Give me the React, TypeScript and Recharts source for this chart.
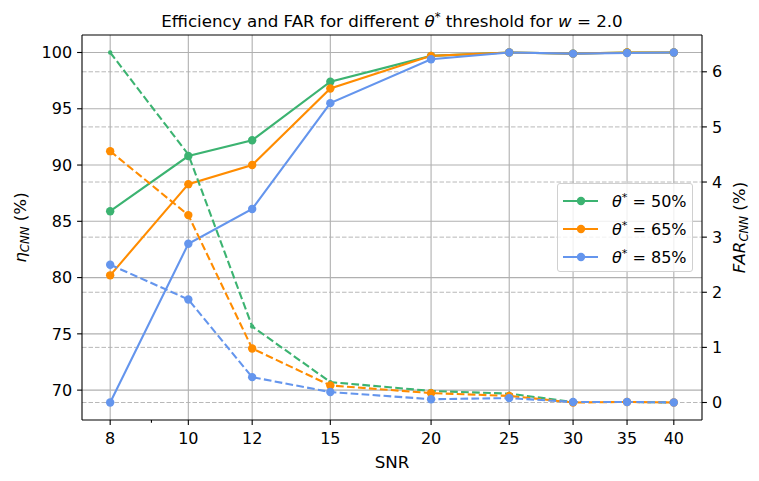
import { CartesianGrid, Legend, Line, LineChart, ReferenceLine, XAxis, YAxis } from "recharts";

// SNR values (log-scaled x axis)
const snr = [8, 10, 12, 15, 20, 25, 30, 35, 40];

// efficiency eta_CNN (%) - left axis, solid
const eff50 = [85.9, 90.8, 92.2, 97.4, 99.7, 100, 99.9, 100, 100];
const eff65 = [80.2, 88.3, 90.0, 96.8, 99.7, 100, 99.9, 100, 100];
const eff85 = [68.9, 83.0, 86.1, 95.5, 99.4, 100, 99.9, 99.95, 100];

// FAR_CNN (%) - right axis, dashed
const far50 = [6.35, 4.5, 1.38, 0.37, 0.21, 0.16, 0.01, 0.01, 0.0];
const far65 = [4.56, 3.4, 0.98, 0.31, 0.17, 0.12, 0.0, 0.01, 0.0];
const far85 = [2.5, 1.87, 0.46, 0.19, 0.06, 0.08, 0.01, 0.01, 0.0];

const thresholds = ["50%", "65%", "85%"];
const xTicks = [8, 10, 12, 15, 20, 25, 30, 35, 40];
const xMinorTicks = [9];
const leftTicks = [70, 75, 80, 85, 90, 95, 100];
const rightTicks = [0, 1, 2, 3, 4, 5, 6];

const GREEN = "#3cb371";
const ORANGE = "#ff8c00";
const BLUE = "#6495ed";
const FONT = "'DejaVu Sans', sans-serif";
const FS = 16;
const LABEL_FS = 16.7;

const W = 759;
const H = 481;
const PLOT_LEFT = 82;
const PLOT_RIGHT = 702;
const PLOT_TOP = 35;
const PLOT_BOTTOM = 420;

const data = snr.map((s, i) => ({
  snr: s,
  eff50: eff50[i],
  eff65: eff65[i],
  eff85: eff85[i],
  far50: far50[i],
  far65: far65[i],
  far85: far85[i],
}));

// matplotlib-style 5% margins
const pad = (lo: number, hi: number) => {
  const m = (hi - lo) * 0.05;
  return [lo - m, hi + m];
};
const effAll = [...eff50, ...eff65, ...eff85];
const farAll = [...far50, ...far65, ...far85];
const leftDomain = pad(Math.min(...effAll), Math.max(...effAll));
const rightDomain = pad(Math.min(...farAll), Math.max(...farAll));
const xRatio = Math.pow(snr[snr.length - 1] / snr[0], 0.05);
const xDomain = [snr[0] / xRatio, snr[snr.length - 1] * xRatio];

function XTick(props: any) {
  const { x, payload } = props;
  const minor = xMinorTicks.includes(payload.value);
  return (
    <g>
      <line x1={x} x2={x} y1={PLOT_BOTTOM} y2={PLOT_BOTTOM + (minor ? 2.8 : 4.9)} stroke="#000" strokeWidth={1.1} />
      {!minor && (
        <text x={x} y={444} textAnchor="middle" fontSize={FS} fontFamily={FONT} fill="#000">
          {payload.value}
        </text>
      )}
    </g>
  );
}

function Theta({ size }: { size: number }) {
  return (
    <>
      <tspan fontStyle="italic">θ</tspan>
      <tspan fontSize={size * 0.7} dy={-6}>*</tspan>
    </>
  );
}

function LegendBox({ payload }: any) {
  const items = (payload || []).filter((p: any) => p.type !== "none");
  return (
    <div
      style={{
        width: 136,
        height: 89,
        boxSizing: "border-box",
        background: "rgba(255,255,255,0.8)",
        border: "1px solid #d0d0d0",
        borderRadius: 3,
        position: "relative",
      }}
    >
      <svg width={136} height={89} style={{ position: "absolute", left: -1, top: -1 }}>
        {items.map((p: any, i: number) => {
          const cy = 18 + i * 28;
          return (
            <g key={p.value}>
              <line x1={6} x2={41} y1={cy} y2={cy} stroke={p.color} strokeWidth={2.1} />
              <circle cx={24} cy={cy} r={4.2} fill={p.color} />
              <text x={55} y={cy + 5.5} fontSize={FS} fontFamily={FONT} fill="#000">
                <Theta size={FS} />
                <tspan dy={6}> = {thresholds[i]}</tspan>
              </text>
            </g>
          );
        })}
      </svg>
    </div>
  );
}

const solidDot = (c: string) => ({ r: 4.2, fill: c, stroke: c, strokeWidth: 0 });
const DASH = "7.7 3.3";

export default function App() {
  return (
    <div style={{ position: "absolute", left: 0, top: 0, width: W, height: H, background: "#fff" }}>
      <LineChart
        width={W}
        height={H}
        data={data}
        margin={{ top: PLOT_TOP, right: 0, bottom: 0, left: 0 }}
        style={{ fontFamily: FONT }}
      >
        <CartesianGrid
          xAxisId={0}
          yAxisId="left"
          horizontalValues={leftTicks}
          verticalValues={xTicks}
          stroke="#b0b0b0"
          strokeWidth={1.1}
        />
        <CartesianGrid
          xAxisId={0}
          yAxisId="right"
          vertical={false}
          horizontalValues={rightTicks}
          stroke="#b0b0b0"
          strokeWidth={0.9}
          strokeDasharray="4.5 2"
        />
        <XAxis
          xAxisId={0}
          dataKey="snr"
          type="number"
          scale="log"
          domain={xDomain}
          allowDataOverflow
          ticks={[...xTicks, ...xMinorTicks].sort((a, b) => a - b)}
          interval={0}
          height={H - PLOT_BOTTOM}
          stroke="#000"
          axisLine={{ stroke: "#000", strokeWidth: 1.1 }}
          tickLine={false}
          tick={<XTick />}
        />
        <YAxis
          yAxisId="left"
          type="number"
          domain={leftDomain}
          allowDataOverflow
          ticks={leftTicks}
          width={PLOT_LEFT}
          stroke="#000"
          axisLine={{ stroke: "#000", strokeWidth: 1.1 }}
          tickLine={{ stroke: "#000", strokeWidth: 1.1 }}
          tickSize={4.9}
          tickMargin={5}
          tick={{ fontSize: FS, fill: "#000", fontFamily: FONT }}
        />
        <YAxis
          yAxisId="right"
          orientation="right"
          type="number"
          domain={rightDomain}
          allowDataOverflow
          ticks={rightTicks}
          width={W - PLOT_RIGHT}
          stroke="#000"
          axisLine={{ stroke: "#000", strokeWidth: 1.1 }}
          tickLine={{ stroke: "#000", strokeWidth: 1.1 }}
          tickSize={4.9}
          tickMargin={5}
          tick={{ fontSize: FS, fill: "#000", fontFamily: FONT }}
        />
        <ReferenceLine yAxisId="left" y={leftDomain[1]} stroke="#000" strokeWidth={1.1} ifOverflow="visible" />

        <Line yAxisId="left" dataKey="eff50" name="50" stroke={GREEN} strokeWidth={2.1} dot={solidDot(GREEN)} activeDot={false} isAnimationActive={false} />
        <Line yAxisId="left" dataKey="eff65" name="65" stroke={ORANGE} strokeWidth={2.1} dot={solidDot(ORANGE)} activeDot={false} isAnimationActive={false} />
        <Line yAxisId="left" dataKey="eff85" name="85" stroke={BLUE} strokeWidth={2.1} dot={solidDot(BLUE)} activeDot={false} isAnimationActive={false} />

        <Line yAxisId="right" dataKey="far50" legendType="none" stroke={GREEN} strokeWidth={2.1} strokeDasharray={DASH} dot={{ r: 2.2, fill: GREEN, stroke: GREEN, strokeWidth: 0 }} activeDot={false} isAnimationActive={false} />
        <Line yAxisId="right" dataKey="far65" legendType="none" stroke={ORANGE} strokeWidth={2.1} strokeDasharray={DASH} dot={solidDot(ORANGE)} activeDot={false} isAnimationActive={false} />
        <Line yAxisId="right" dataKey="far85" legendType="none" stroke={BLUE} strokeWidth={2.1} strokeDasharray={DASH} dot={solidDot(BLUE)} activeDot={false} isAnimationActive={false} />

        <Legend
          layout="vertical"
          align="center"
          verticalAlign="middle"
          content={<LegendBox />}
          wrapperStyle={{ left: 557, top: 183, width: 136, height: 89 }}
        />
      </LineChart>

      <svg width={W} height={H} style={{ position: "absolute", left: 0, top: 0, pointerEvents: "none" }}>
        <text x={(PLOT_LEFT + PLOT_RIGHT) / 2} y={27} textAnchor="middle" fontSize={LABEL_FS} fontFamily={FONT} fill="#000">
          Efficiency and FAR for different <Theta size={LABEL_FS} />
          <tspan dy={6}> threshold for </tspan>
          <tspan fontStyle="italic">w</tspan>
          <tspan> = 2.0</tspan>
        </text>
        <text x={392} y={468} textAnchor="middle" fontSize={LABEL_FS} fontFamily={FONT} fill="#000">
          SNR
        </text>
        <text
          transform={`translate(26, ${(PLOT_TOP + PLOT_BOTTOM) / 2}) rotate(-90)`}
          textAnchor="middle"
          fontSize={LABEL_FS}
          fontFamily={FONT}
          fill="#000"
        >
          <tspan fontStyle="italic">η</tspan>
          <tspan fontStyle="italic" fontSize={LABEL_FS * 0.7} dy={3}>CNN</tspan>
          <tspan dy={-3}> (%)</tspan>
        </text>
        <text
          transform={`translate(745, ${(PLOT_TOP + PLOT_BOTTOM) / 2}) rotate(-90)`}
          textAnchor="middle"
          fontSize={LABEL_FS}
          fontFamily={FONT}
          fill="#000"
        >
          <tspan fontStyle="italic">FAR</tspan>
          <tspan fontStyle="italic" fontSize={LABEL_FS * 0.7} dy={3}>CNN</tspan>
          <tspan dy={-3}> (%)</tspan>
        </text>
      </svg>
    </div>
  );
}
